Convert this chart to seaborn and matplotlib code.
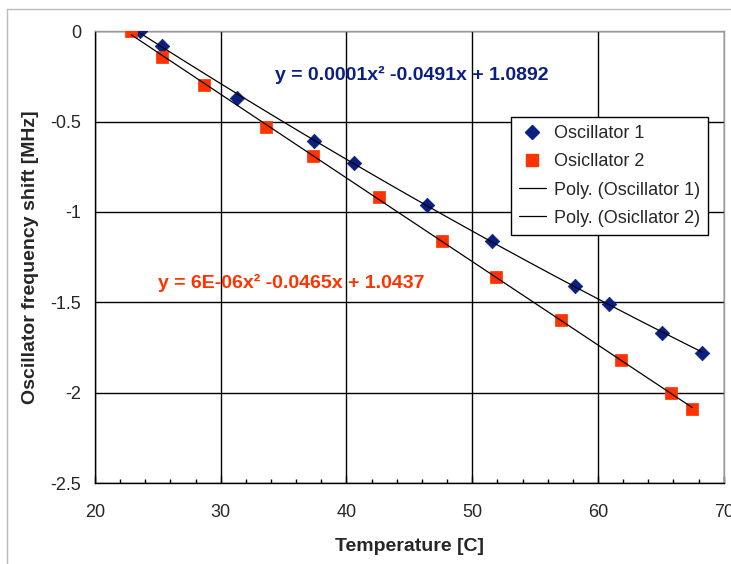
import numpy as np
import pandas as pd
import matplotlib.pyplot as plt
from matplotlib.lines import Line2D
from matplotlib.ticker import MultipleLocator
import seaborn as sns

sns.set_theme(style="white")
plt.rcParams["font.family"] = ["Liberation Sans", "DejaVu Sans"]

# values
osc1_temp = [23.6, 25.3, 31.3, 37.4, 40.6, 46.4, 51.6, 58.2, 60.9, 65.1, 68.3]
osc1_shift = [0.0, -0.08, -0.37, -0.61, -0.73, -0.96, -1.16, -1.41, -1.51, -1.67, -1.78]
osc2_temp = [22.9, 25.3, 28.7, 33.6, 37.3, 42.6, 47.6, 51.9, 57.1, 61.8, 65.8, 67.5]
osc2_shift = [0.0, -0.14, -0.30, -0.53, -0.69, -0.92, -1.16, -1.36, -1.60, -1.82, -2.00, -2.09]
eq1 = "y = 0.0001x\u00b2 -0.0491x + 1.0892"
eq2 = "y = 6E-06x\u00b2 -0.0465x + 1.0437"

NAVY = "#0B1F82"
RED = "#FF3300"

df1 = pd.DataFrame({"t": osc1_temp, "f": osc1_shift})
df2 = pd.DataFrame({"t": osc2_temp, "f": osc2_shift})

fig = plt.figure(figsize=(7.31, 5.64), dpi=100)
ax = fig.add_axes([0.130, 0.1436, 0.860, 0.801])

sns.scatterplot(data=df1, x="t", y="f", marker="D", s=55, color=NAVY, edgecolor=NAVY, linewidth=0.5, ax=ax, zorder=3)
sns.scatterplot(data=df2, x="t", y="f", marker="s", s=72, color=RED, edgecolor=RED, linewidth=0.5, ax=ax, zorder=3)

# 2nd order polynomial trendlines like Excel
for d in (df1, df2):
    c = np.polyfit(d["t"], d["f"], 2)
    xs = np.linspace(d["t"].min(), d["t"].max(), 100)
    sns.lineplot(x=xs, y=np.polyval(c, xs), color="black", linewidth=0.9, ax=ax, zorder=4)

ax.set_xlim(20, 70)
ax.set_ylim(-2.5, 0)
ax.xaxis.set_major_locator(MultipleLocator(10))
ax.xaxis.set_minor_locator(MultipleLocator(2))
ax.set_yticks([0, -0.5, -1, -1.5, -2, -2.5])
ax.set_yticklabels(["0", "-0.5", "-1", "-1.5", "-2", "-2.5"])
ax.grid(True, which="major", color="black", linewidth=1)
ax.tick_params(axis="y", which="major", direction="out", length=5, width=1, color="black", labelsize=13, pad=5)
ax.tick_params(axis="x", which="major", direction="in", length=5, width=1, color="black", labelsize=13, pad=15, bottom=True)
ax.tick_params(axis="x", which="minor", direction="in", length=3, width=1, color="black", bottom=True)
for s in ("left", "bottom"):
    ax.spines[s].set_color("black")
    ax.spines[s].set_linewidth(1)
for s in ("top", "right"):
    ax.spines[s].set_color("#999999")
    ax.spines[s].set_linewidth(1)

ax.set_xlabel("Temperature [C]", fontsize=14, fontweight="bold", labelpad=12)
ax.set_ylabel("Oscillator frequency shift [MHz]", fontsize=14, fontweight="bold", labelpad=8)

ax.text(34.3, -0.244, eq1, color=NAVY, fontsize=14, fontweight="bold", va="center", ha="left")
ax.text(25.0, -1.394, eq2, color=RED, fontsize=14, fontweight="bold", va="center", ha="left")

handles = [
    Line2D([], [], marker="D", linestyle="none", color=NAVY, markersize=7),
    Line2D([], [], marker="s", linestyle="none", color=RED, markersize=8.5),
    Line2D([], [], color="black", linewidth=0.9),
    Line2D([], [], color="black", linewidth=0.9),
]
labels = ["Oscillator 1", "Osicllator 2", "Poly. (Oscillator 1)", "Poly. (Osicllator 2)"]
leg = ax.legend(handles, labels, loc="upper left", bbox_to_anchor=(0.661, 0.81), fontsize=13,
                frameon=True, fancybox=False, framealpha=1, edgecolor="black",
                handlelength=1.5, handletextpad=0.45, borderpad=0.45, labelspacing=0.62, borderaxespad=0)
leg.get_frame().set_linewidth(1)

# light chart-area border
fig.add_artist(Line2D([7 / 731, 7 / 731], [0, 1 - 9 / 564], color="#BBBBBB", linewidth=1))
fig.add_artist(Line2D([7 / 731, 730 / 731], [1 - 9 / 564, 1 - 9 / 564], color="#BBBBBB", linewidth=1))

fig.savefig("out.png", dpi=100)
